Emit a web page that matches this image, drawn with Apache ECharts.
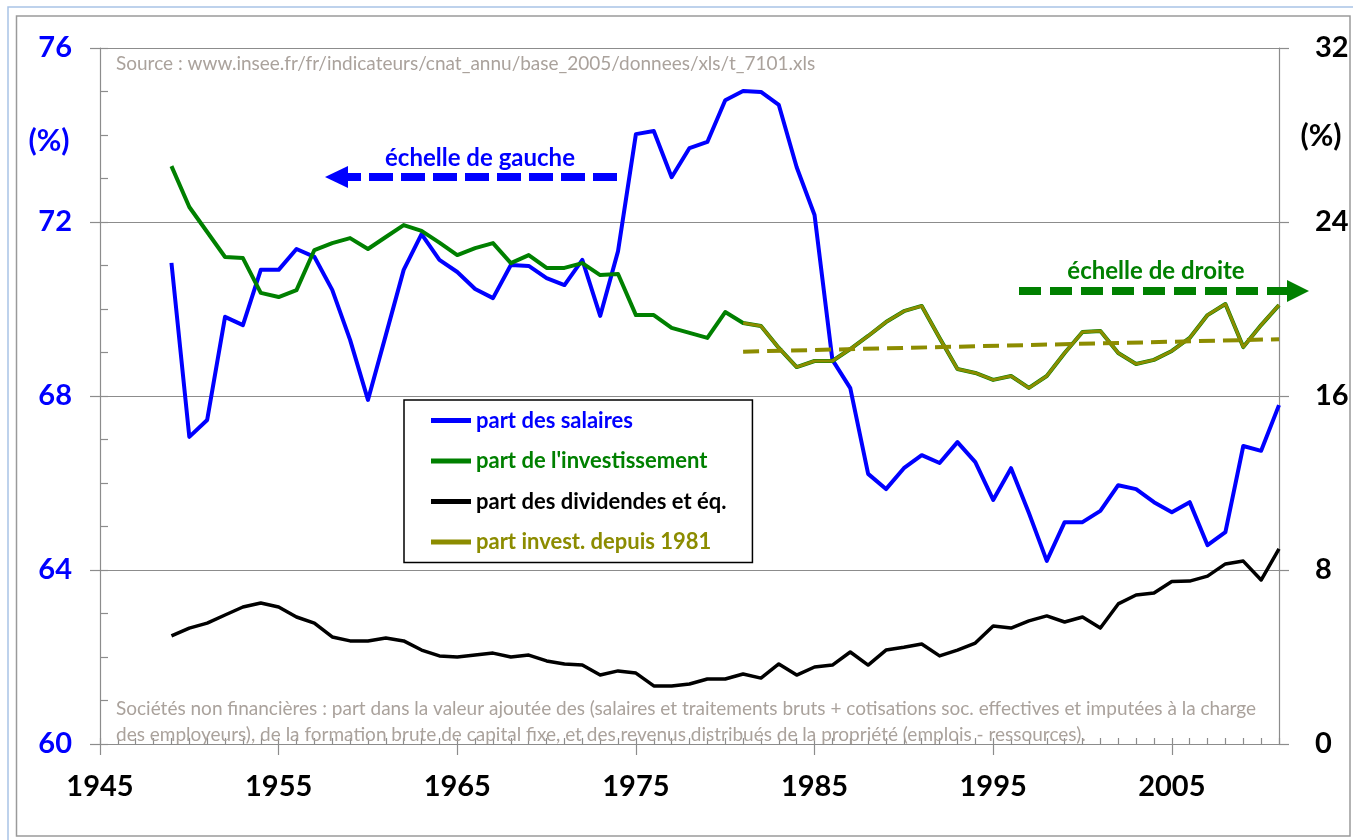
<!DOCTYPE html>
<html><head><meta charset="utf-8">
<script src="https://cdn.jsdelivr.net/npm/echarts@6/dist/echarts.min.js"></script>
<style>html,body{margin:0;padding:0;background:#fff}#c{width:1353px;height:840px}</style>
</head><body><div id="c"></div>
<script>
// Axis categories (years) 1945..2011
const axisYears = ["1945","1946","1947","1948","1949","1950","1951","1952","1953","1954","1955","1956","1957","1958","1959","1960","1961","1962","1963","1964","1965","1966","1967","1968","1969","1970","1971","1972","1973","1974","1975","1976","1977","1978","1979","1980","1981","1982","1983","1984","1985","1986","1987","1988","1989","1990","1991","1992","1993","1994","1995","1996","1997","1998","1999","2000","2001","2002","2003","2004","2005","2006","2007","2008","2009","2010","2011"];
// Data years 1949..2011
const dataYears = ["1949","1950","1951","1952","1953","1954","1955","1956","1957","1958","1959","1960","1961","1962","1963","1964","1965","1966","1967","1968","1969","1970","1971","1972","1973","1974","1975","1976","1977","1978","1979","1980","1981","1982","1983","1984","1985","1986","1987","1988","1989","1990","1991","1992","1993","1994","1995","1996","1997","1998","1999","2000","2001","2002","2003","2004","2005","2006","2007","2008","2009","2010","2011"];
// part des salaires (left scale, %)
const salaires = [71.06,67.06,67.45,69.82,69.63,70.90,70.90,71.38,71.20,70.44,69.29,67.91,69.40,70.90,71.72,71.13,70.85,70.46,70.25,71.01,70.99,70.71,70.55,71.13,69.84,71.33,74.02,74.09,73.03,73.70,73.84,74.80,75.01,74.99,74.69,73.26,72.16,68.83,68.18,66.21,65.86,66.34,66.64,66.46,66.94,66.48,65.61,66.34,65.31,64.21,65.10,65.10,65.36,65.95,65.86,65.56,65.33,65.56,64.57,64.87,66.85,66.74,67.79];
// part de l'investissement (right scale, %)
const investissement = [26.57,24.69,23.54,22.39,22.34,20.74,20.55,20.87,22.71,23.03,23.26,22.76,23.31,23.86,23.59,23.05,22.48,22.80,23.03,22.11,22.48,21.89,21.89,22.11,21.56,21.61,19.72,19.72,19.13,18.90,18.67,19.86,19.36,19.22,18.21,17.33,17.61,17.61,18.16,18.76,19.40,19.90,20.14,18.67,17.24,17.06,16.74,16.92,16.37,16.92,17.98,18.94,18.99,17.98,17.47,17.66,18.07,18.67,19.72,20.23,18.25,19.26,20.18];
// part des dividendes et éq. (right scale, %)
const dividendes = [4.97,5.33,5.56,5.93,6.30,6.48,6.30,5.84,5.56,4.92,4.74,4.74,4.87,4.74,4.32,4.05,4.00,4.09,4.18,4.00,4.09,3.82,3.68,3.63,3.17,3.36,3.26,2.67,2.67,2.76,2.99,2.99,3.22,3.03,3.68,3.17,3.54,3.63,4.23,3.63,4.32,4.45,4.60,4.05,4.32,4.64,5.43,5.33,5.66,5.89,5.61,5.84,5.33,6.44,6.85,6.94,7.47,7.49,7.72,8.28,8.41,7.54,8.97];
// trend of investment since 1981
const trendYears = ["1981","2011"];
const trendValues = [18.04, 18.61];
const leftTicks = [60,64,68,72,76];
const rightTicks = [0,8,16,24,32];

const pairs = (xs, ys) => xs.map((x, i) => [x, ys[i]]);
const since1981 = dataYears.indexOf("1981");

const FONT = 'Lato, "Open Sans", sans-serif';
const BLUE = '#0000ff', GREEN = '#008000', OLIVE = '#8c8c00', GRID = '#8c8c8c', NOTE = '#aaa29c';

const chart = echarts.init(document.getElementById('c'), null, {renderer: 'canvas'});
const option = {
  backgroundColor: '#fff',
  animation: false,
  textStyle: {fontFamily: FONT},
  grid: {left: 100, top: 48, width: 1179, height: 696, containLabel: false},
  legend: {
    orient: 'vertical', left: 404, top: 400,
    backgroundColor: '#fff', borderColor: '#000', borderWidth: 1.5,
    padding: [8.5, 26, 8.5, 27], itemGap: 16.5, itemWidth: 40, itemHeight: 5,
    icon: 'rect',
    textStyle: {fontFamily: FONT, fontWeight: 'bold', fontSize: 22, lineHeight: 24},
    data: [
      {name: 'part des salaires', textStyle: {color: BLUE}},
      {name: "part de l'investissement", textStyle: {color: GREEN}},
      {name: 'part des dividendes et éq.', textStyle: {color: '#000'}},
      {name: 'part invest. depuis 1981', textStyle: {color: OLIVE}}
    ]
  },
  xAxis: [{
    type: 'category', data: axisYears, boundaryGap: false,
    axisLine: {lineStyle: {color: GRID, width: 1.2}},
    axisTick: {interval: 9, length: 11, lineStyle: {color: GRID, width: 1.2}},
    axisLabel: {interval: 9, margin: 28, color: '#000', fontWeight: 'bold', fontSize: 29, fontFamily: FONT},
    splitLine: {show: false}
  }, {
    type: 'category', data: axisYears, boundaryGap: false, position: 'bottom',
    axisLine: {show: false},
    axisTick: {interval: 0, inside: true, length: 6, lineStyle: {color: GRID, width: 1.2}},
    axisLabel: {show: false}, splitLine: {show: false}
  }],
  yAxis: [{
    type: 'value', position: 'left', min: 60, max: 76, interval: 4,
    axisLine: {show: true, lineStyle: {color: GRID, width: 1.2}},
    axisTick: {show: true, length: 10, lineStyle: {color: GRID, width: 1.2}},
    axisLabel: {margin: 28, color: BLUE, fontWeight: 'bold', fontSize: 29, fontFamily: FONT},
    splitLine: {show: true, lineStyle: {color: GRID, width: 1.2}}
  }, {
    type: 'value', position: 'right', min: 0, max: 32, interval: 8,
    axisLine: {show: true, lineStyle: {color: GRID, width: 1.2}},
    axisTick: {show: true, length: 10, lineStyle: {color: GRID, width: 1.2}},
    axisLabel: {margin: 36, color: '#000', fontWeight: 'bold', fontSize: 29, fontFamily: FONT, align: 'left'},
    splitLine: {show: false}
  }, {
    type: 'value', position: 'left', min: 60, max: 76, interval: 1,
    axisLine: {show: false},
    axisTick: {show: true, inside: true, length: 8, lineStyle: {color: GRID, width: 1.2}},
    axisLabel: {show: false}, splitLine: {show: false}
  }],
  series: [
    {name: 'part des salaires', type: 'line', yAxisIndex: 0, data: pairs(dataYears, salaires),
     showSymbol: false, lineStyle: {color: BLUE, width: 4, join: 'round'}, itemStyle: {color: BLUE}, z: 2},
    {name: "part de l'investissement", type: 'line', yAxisIndex: 1, data: pairs(dataYears, investissement),
     showSymbol: false, lineStyle: {color: GREEN, width: 4, join: 'round'}, itemStyle: {color: GREEN}, z: 3},
    {name: 'part des dividendes et éq.', type: 'line', yAxisIndex: 1, data: pairs(dataYears, dividendes),
     showSymbol: false, lineStyle: {color: '#000', width: 3.5, join: 'round'}, itemStyle: {color: '#000'}, z: 3},
    {name: 'part invest. depuis 1981', type: 'line', yAxisIndex: 1,
     data: pairs(dataYears.slice(since1981), investissement.slice(since1981)),
     showSymbol: false, lineStyle: {color: OLIVE, width: 3, join: 'round'}, itemStyle: {color: OLIVE}, z: 4},
    {name: 'tendance', type: 'line', yAxisIndex: 1, data: pairs(trendYears, trendValues),
     showSymbol: false, lineStyle: {color: OLIVE, width: 4, type: [16, 8]}, itemStyle: {color: OLIVE}, z: 5}
  ],
  graphic: [
    {type: 'rect', z: 0, silent: true, shape: {x: 8, y: 7, width: 1360, height: 860}, style: {fill: null, stroke: '#a9c3e6', lineWidth: 1.5}},
    {type: 'rect', z: 0, silent: true, shape: {x: 16.5, y: 16, width: 1333.5, height: 820}, style: {fill: null, stroke: '#9a9a9a', lineWidth: 1.5}},
    {type: 'text', z: 10, style: {x: 116, y: 64, text: 'Source : www.insee.fr/fr/indicateurs/cnat_annu/base_2005/donnees/xls/t_7101.xls', fill: NOTE, font: '19px ' + FONT, textVerticalAlign: 'middle'}},
    {type: 'text', z: 10, style: {x: 116, y: 709, text: 'Sociétés non financières : part dans la valeur ajoutée des (salaires et traitements bruts + cotisations soc. effectives et imputées à la charge', fill: NOTE, font: '19px ' + FONT, textVerticalAlign: 'middle'}},
    {type: 'text', z: 10, style: {x: 116, y: 735, text: 'des employeurs), de la formation brute de capital fixe, et des revenus distribués de la propriété (emplois - ressources).', fill: NOTE, font: '19px ' + FONT, textVerticalAlign: 'middle'}},
    {type: 'text', z: 10, style: {x: 49, y: 141, text: '(%)', fill: BLUE, font: 'bold 30px ' + FONT, textAlign: 'center', textVerticalAlign: 'middle'}},
    {type: 'text', z: 10, style: {x: 1321, y: 136, text: '(%)', fill: '#000', font: 'bold 30px ' + FONT, textAlign: 'center', textVerticalAlign: 'middle'}},
    {type: 'text', z: 10, style: {x: 480, y: 158, text: 'échelle de gauche', fill: BLUE, font: 'bold 24px ' + FONT, textAlign: 'center', textVerticalAlign: 'middle'}},
    {type: 'line', z: 10, shape: {x1: 617, y1: 177, x2: 346, y2: 177}, style: {stroke: BLUE, lineWidth: 8, lineDash: [24, 8]}},
    {type: 'polygon', z: 10, shape: {points: [[325, 177], [348, 166], [348, 188]]}, style: {fill: BLUE}},
    {type: 'text', z: 10, style: {x: 1156, y: 271, text: 'échelle de droite', fill: GREEN, font: 'bold 24px ' + FONT, textAlign: 'center', textVerticalAlign: 'middle'}},
    {type: 'line', z: 10, shape: {x1: 1019, y1: 291, x2: 1288, y2: 291}, style: {stroke: GREEN, lineWidth: 8, lineDash: [22, 9]}},
    {type: 'polygon', z: 10, shape: {points: [[1309, 291], [1287, 280], [1287, 302]]}, style: {fill: GREEN}}
  ]
};
chart.setOption(option);
</script></body></html>
